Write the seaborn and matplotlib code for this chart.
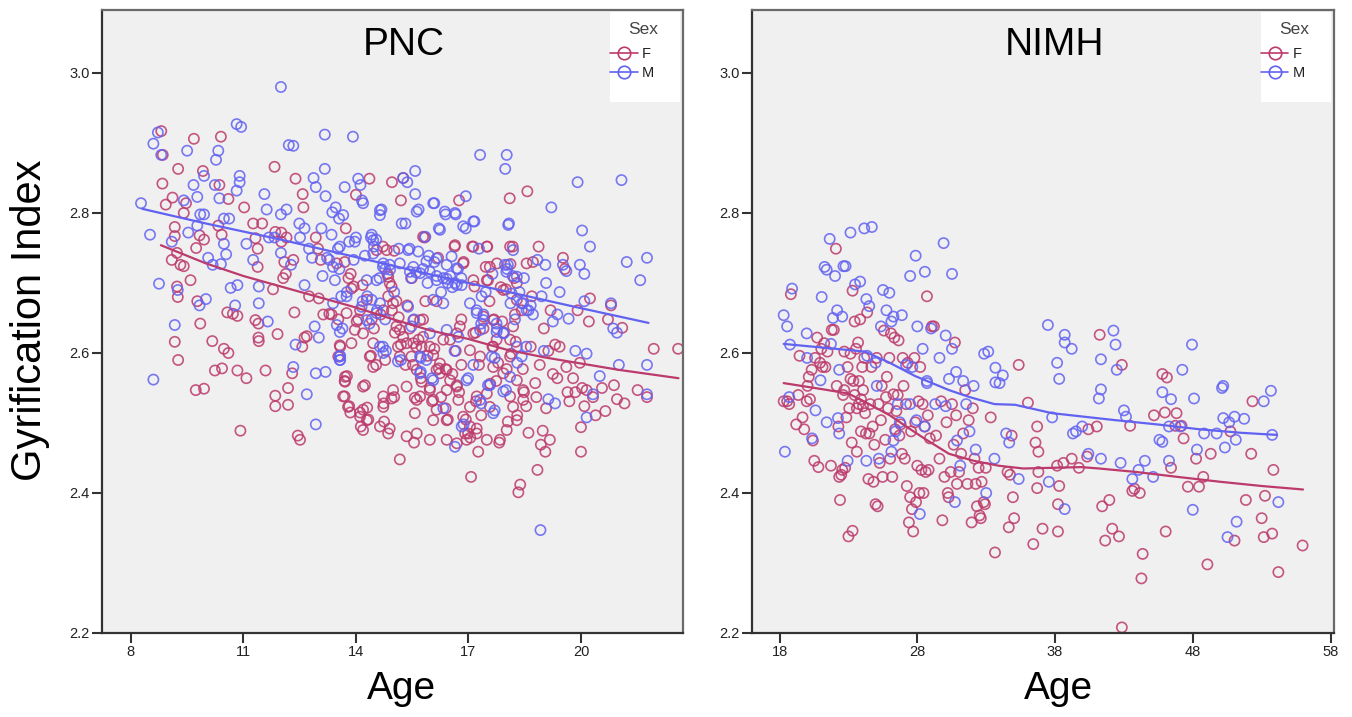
import matplotlib
matplotlib.use("Agg")
import matplotlib.pyplot as plt
import seaborn as sns
from matplotlib.lines import Line2D
from matplotlib.patches import Rectangle
from matplotlib.colors import to_rgba

# ---------------- DATA ----------------
sex_levels = ["F", "M"]
panel_titles = ["PNC", "NIMH"]
y_ticks = [2.2, 2.4, 2.6, 2.8, 3.0]
pnc_x_ticks = [8, 11, 14, 17, 20]
nimh_x_ticks = [18, 28, 38, 48, 58]

pnc_f_age = [8.81, 8.85, 8.84, 8.93, 9.11, 9.26, 9.17, 9.17, 9.09, 9.23, 9.32, 9.41, 9.23, 9.25, 9.17, 9.26, 9.41, 9.47,
             9.68, 9.59, 9.74, 9.83, 9.77, 9.85, 9.73, 9.95, 9.92, 9.95, 10.17, 10.24, 10.43, 10.48, 10.6, 10.4, 10.36,
             10.33, 10.42, 10.6, 10.57, 10.72, 10.84, 10.84, 10.92, 11.02, 11.08, 11.26, 11.32, 11.38, 11.38, 11.32,
             11.4, 11.4, 11.41, 11.5, 11.59, 11.79, 11.83, 11.85, 11.85, 11.85, 11.91, 12.01, 12.01, 12.06, 12.09,
             12.13, 12.15, 12.19, 12.19, 12.3, 12.33, 12.36, 12.39, 12.45, 12.51, 12.57, 12.58, 12.6, 12.63, 12.69,
             12.75, 12.93, 12.99, 13.01, 13.06, 13.13, 13.29, 13.35, 13.53, 13.58, 13.7, 13.73, 13.7, 13.76, 13.7,
             13.82, 13.85, 13.86, 13.94, 14.0, 14.06, 14.11, 14.13, 14.18, 14.24, 14.3, 14.33, 14.36, 14.4, 14.42,
             14.48, 14.54, 14.66, 14.72, 14.74, 14.75, 14.78, 14.84, 14.9, 14.9, 14.96, 14.96, 15.02, 15.02, 15.04,
             15.08, 15.14, 15.17, 15.2, 15.2, 15.26, 15.32, 15.37, 15.43, 15.49, 15.52, 15.55, 15.57, 15.61, 15.67,
             15.73, 15.79, 15.83, 15.85, 15.91, 15.97, 16.03, 16.09, 16.15, 16.19, 16.21, 16.27, 16.33, 16.39, 16.39,
             16.45, 16.51, 16.57, 16.63, 16.66, 16.69, 16.75, 16.75, 16.81, 16.81, 16.87, 16.93, 16.99, 17.05, 17.07,
             17.1, 17.16, 17.19, 17.2, 17.22, 17.26, 17.28, 17.34, 17.4, 17.46, 17.5, 17.52, 17.56, 17.58, 17.64,
             17.68, 17.74, 17.76, 17.79, 17.82, 17.86, 17.9, 17.94, 18.0, 18.02, 18.05, 18.1, 18.12, 18.14, 18.18,
             18.22, 18.24, 18.26, 18.3, 18.33, 18.38, 18.42, 18.45, 18.48, 18.54, 18.57, 18.6, 18.66, 18.69, 18.72,
             18.78, 18.81, 18.84, 18.87, 18.9, 18.93, 18.98, 19.01, 19.05, 19.07, 19.13, 19.17, 19.19, 19.25, 19.31,
             19.37, 19.43, 19.52, 19.57, 19.61, 19.64, 19.69, 19.79, 19.85, 19.91, 19.97, 20.0, 20.0, 20.03, 20.09,
             20.15, 20.21, 20.24, 20.32, 20.39, 20.56, 20.65, 20.72, 20.8, 20.88, 20.96, 21.1, 21.16, 21.51, 21.76,
             21.94, 22.59,
             13.49, 13.80, 13.88, 13.75, 14.02, 13.97, 13.57, 13.88, 13.53, 13.71,
             13.71, 14.19, 13.66, 13.79, 14.11, 14.29, 14.19, 14.37, 14.46, 14.73,
             14.95, 14.64, 14.86, 14.55, 14.82, 14.86, 14.95, 14.86, 14.73, 14.99,
             15.08, 15.17, 15.26, 15.35, 15.53, 15.71, 15.79, 15.53, 15.12, 15.17,
             15.48, 15.75, 15.97, 16.06, 16.24, 15.62, 16.15, 16.42, 16.51, 16.24,
             15.75, 15.35, 15.71, 15.97, 16.42, 16.69, 16.73, 15.62, 16.06, 16.15,
             15.57, 16.06, 16.42, 16.86, 17.04, 17.22, 17.49, 17.57, 17.04, 17.22,
             16.91, 16.95, 16.69, 17.49, 17.84, 18.02, 18.29, 18.19, 18.11, 18.46,
             18.46, 18.29, 17.93, 17.66, 17.31, 17.04, 17.66, 18.11, 17.75, 18.11,
             18.19, 17.66, 17.40, 17.13, 16.77, 16.69, 18.29, 17.93, 18.29, 17.49,
             17.13, 16.86, 17.57, 17.49, 17.13, 16.64, 18.11, 18.55, 15.79, 14.19,
             14.46, 14.29, 14.11, 14.19, 14.73, 14.99, 15.35, 15.62, 15.97, 16.42]
pnc_f_gi = [2.917, 2.883, 2.842, 2.812, 2.822, 2.863, 2.78, 2.767, 2.733, 2.743, 2.726, 2.724, 2.695, 2.68, 2.616, 2.59,
            2.80, 2.814, 2.906, 2.704, 2.75, 2.768, 2.674, 2.642, 2.547, 2.549, 2.86, 2.762, 2.617, 2.575, 2.578, 2.606,
            2.60, 2.909, 2.84, 2.782, 2.769, 2.82, 2.658, 2.656, 2.653, 2.575, 2.489, 2.808, 2.564, 2.785, 2.764, 2.749,
            2.723, 2.647, 2.642, 2.622, 2.617, 2.785, 2.575, 2.691, 2.866, 2.773, 2.539, 2.524, 2.627, 2.772, 2.759,
            2.707, 2.73, 2.713, 2.765, 2.55, 2.526, 2.571, 2.733, 2.658, 2.849, 2.482, 2.476, 2.609, 2.827, 2.808,
            2.622, 2.624, 2.681, 2.765, 2.749, 2.678, 2.733, 2.655, 2.656, 2.655, 2.648, 2.609, 2.73, 2.778, 2.56,
            2.567, 2.538, 2.524, 2.515, 2.713, 2.695, 2.826, 2.648, 2.515, 2.495, 2.697, 2.554, 2.522, 2.505, 2.849,
            2.596, 2.648, 2.635, 2.583, 2.655, 2.752, 2.528, 2.502, 2.59, 2.713, 2.492, 2.70, 2.661, 2.844, 2.537,
            2.746, 2.629, 2.674, 2.651, 2.448, 2.612, 2.818, 2.85, 2.583, 2.668, 2.635, 2.707, 2.583, 2.472, 2.536,
            2.609, 2.619, 2.564, 2.648, 2.765, 2.674, 2.596, 2.55, 2.531, 2.606, 2.674, 2.736, 2.578, 2.537, 2.619,
            2.577, 2.521, 2.505, 2.619, 2.57, 2.752, 2.603, 2.554, 2.818, 2.544, 2.648, 2.583, 2.73, 2.505, 2.485,
            2.479, 2.423, 2.752, 2.695, 2.629, 2.531, 2.492, 2.459, 2.583, 2.511, 2.635, 2.723, 2.752, 2.704, 2.674,
            2.556, 2.609, 2.648, 2.56, 2.728, 2.586, 2.472, 2.694, 2.645, 2.629, 2.691, 2.577, 2.502, 2.821, 2.727,
            2.599, 2.752, 2.707, 2.655, 2.616, 2.511, 2.401, 2.412, 2.661, 2.577, 2.544, 2.524, 2.831, 2.486, 2.609,
            2.681, 2.73, 2.557, 2.537, 2.433, 2.752, 2.583, 2.469, 2.489, 2.635, 2.459, 2.521, 2.603, 2.476, 2.661,
            2.57, 2.612, 2.564, 2.609, 2.736, 2.72, 2.58, 2.544, 2.531, 2.564, 2.544, 2.661, 2.586, 2.494, 2.459,
            2.55, 2.524, 2.547, 2.645, 2.678, 2.537, 2.511, 2.55, 2.517, 2.648, 2.668, 2.554, 2.534, 2.636, 2.528,
            2.547, 2.537, 2.606, 2.606,
            2.728, 2.707, 2.692, 2.657, 2.645, 2.633, 2.611, 2.614, 2.595, 2.566,
            2.559, 2.552, 2.538, 2.523, 2.509, 2.504, 2.49, 2.595, 2.58, 2.523,
            2.535, 2.495, 2.485, 2.747, 2.747, 2.709, 2.695, 2.681, 2.661, 2.671,
            2.638, 2.633, 2.623, 2.614, 2.647, 2.647, 2.623, 2.614, 2.609, 2.595,
            2.595, 2.609, 2.609, 2.597, 2.585, 2.576, 2.576, 2.576, 2.561, 2.571,
            2.559, 2.552, 2.538, 2.547, 2.547, 2.552, 2.533, 2.533, 2.533, 2.519,
            2.514, 2.504, 2.504, 2.509, 2.523, 2.538, 2.542, 2.523, 2.495, 2.485,
            2.485, 2.476, 2.471, 2.476, 2.476, 2.49, 2.504, 2.523, 2.538, 2.533,
            2.547, 2.561, 2.571, 2.58, 2.595, 2.604, 2.609, 2.595, 2.619, 2.619,
            2.638, 2.647, 2.652, 2.628, 2.638, 2.628, 2.676, 2.69, 2.70, 2.704,
            2.704, 2.728, 2.723, 2.752, 2.752, 2.754, 2.752, 2.728, 2.766, 2.628,
            2.614, 2.676, 2.661, 2.519, 2.538, 2.547, 2.481, 2.485, 2.476, 2.476]

pnc_m_age = [8.27, 8.51, 8.6, 8.75, 8.6, 8.72, 8.81, 9.09, 9.25, 9.17, 9.41, 9.5, 9.53, 9.67, 9.77, 9.77, 9.85, 9.83,
             9.95, 9.95, 10.0, 10.06, 10.18, 10.24, 10.27, 10.33, 10.36, 10.4, 10.48, 10.48, 10.54, 10.62, 10.66,
             10.78, 10.82, 10.94, 10.9, 10.9, 10.82, 10.84, 11.08, 11.26, 11.41, 11.41, 11.56, 11.62, 11.65, 11.68,
             11.83, 12.0, 12.0, 12.0, 12.15, 12.21, 12.33, 12.27, 12.39, 12.33, 12.49, 12.51, 12.63, 12.63, 12.69,
             12.75, 12.83, 12.87, 12.93, 12.9, 12.93, 12.93, 13.01, 13.08, 13.11, 13.17, 13.17, 13.19, 13.19, 13.23,
             13.29, 13.35, 13.37, 13.46, 13.52, 13.55, 13.56, 13.58, 13.58, 13.61, 13.64, 13.7, 13.76, 13.82, 13.92,
             13.94, 14.0, 14.06, 14.12, 14.16, 14.18, 14.24, 14.3, 14.36, 14.4, 14.48, 14.54, 14.56, 14.63, 14.68,
             14.72, 14.72, 14.78, 14.8, 14.78, 14.9, 15.02, 15.14, 15.2, 15.26, 15.32, 15.37, 15.43, 15.47, 15.55,
             15.58, 15.58, 15.61, 15.67, 15.73, 15.73, 15.79, 15.85, 15.91, 15.94, 16.03, 16.09, 16.09, 16.15, 16.21,
             16.27, 16.33, 16.39, 16.42, 16.45, 16.51, 16.57, 16.63, 16.66, 16.69, 16.72, 16.81, 16.87, 16.93, 16.93,
             16.99, 17.16, 17.22, 17.28, 17.31, 17.34, 17.34, 17.4, 17.46, 17.52, 17.64, 17.7, 17.7, 17.76, 17.94,
             17.98, 18.02, 18.03, 18.05, 18.0, 18.08, 18.12, 18.18, 18.24, 18.3, 18.36, 18.42, 18.48, 18.54, 18.6,
             18.66, 18.72, 18.84, 18.92, 18.95, 19.01, 19.05, 19.07, 19.13, 19.21, 19.25, 19.31, 19.37, 19.43, 19.52,
             19.61, 19.67, 19.85, 19.91, 19.97, 20.03, 20.09, 20.09, 20.15, 20.15, 20.24, 20.32, 20.5, 20.8, 20.86,
             20.96, 21.01, 21.08, 21.22, 21.58, 21.76, 21.76, 21.76,
             14.64, 14.64, 13.66, 14.19, 15.22, 15.62, 16.06, 16.37, 16.64, 17.13,
             16.86, 16.24, 18.06, 14.42, 14.46, 13.97, 13.57, 15.39, 15.66, 14.46,
             14.73, 15.17, 15.53, 15.88, 16.15, 16.55, 16.69, 15.97, 16.15, 16.42,
             16.64, 16.82, 15.71, 15.44, 14.91, 14.55, 14.29, 13.39, 13.44, 13.75,
             13.39, 14.15, 14.42, 14.64, 14.55, 14.29, 13.49, 13.57, 15.39, 16.06,
             16.33, 17.04, 17.35, 17.97, 18.01, 18.19, 18.29, 18.15, 18.46, 18.55,
             17.22, 17.4, 17.75, 17.31, 17.75, 17.93, 18.29, 18.42, 15.48, 15.97,
             16.42, 16.73, 14.64, 14.73, 15.71, 15.88, 17.62, 15.12, 15.71, 16.06,
             13.57, 13.57, 17.13, 16.95, 17.57, 17.93, 18.11, 17.31, 16.33, 17.66,
             16.64, 16.82]
pnc_m_gi = [2.814, 2.769, 2.899, 2.699, 2.562, 2.915, 2.883, 2.759, 2.69, 2.64, 2.818, 2.889, 2.772, 2.84, 2.823, 2.782,
            2.798, 2.668, 2.853, 2.798, 2.677, 2.736, 2.726, 2.84, 2.876, 2.889, 2.821, 2.727, 2.756, 2.792, 2.741,
            2.792, 2.693, 2.668, 2.927, 2.923, 2.853, 2.844, 2.832, 2.697, 2.756, 2.733, 2.695, 2.671, 2.827, 2.805,
            2.645, 2.765, 2.765, 2.98, 2.798, 2.743, 2.805, 2.897, 2.896, 2.726, 2.612, 2.58, 2.785, 2.765, 2.778,
            2.697, 2.541, 2.749, 2.736, 2.85, 2.837, 2.638, 2.571, 2.498, 2.622, 2.778, 2.71, 2.912, 2.863, 2.824,
            2.573, 2.736, 2.733, 2.769, 2.801, 2.808, 2.749, 2.792, 2.72, 2.596, 2.59, 2.681, 2.635, 2.837, 2.687,
            2.759, 2.909, 2.733, 2.765, 2.849, 2.84, 2.818, 2.674, 2.739, 2.681, 2.642, 2.765, 2.752, 2.762, 2.661,
            2.707, 2.805, 2.723, 2.609, 2.648, 2.603, 2.72, 2.726, 2.687, 2.749, 2.59, 2.85, 2.785, 2.844, 2.749,
            2.707, 2.648, 2.827, 2.86, 2.715, 2.805, 2.593, 2.573, 2.72, 2.766, 2.70, 2.739, 2.564, 2.814, 2.73, 2.71,
            2.778, 2.687, 2.707, 2.798, 2.726, 2.70, 2.71, 2.694, 2.603, 2.798, 2.697, 2.72, 2.707, 2.498, 2.778,
            2.824, 2.564, 2.788, 2.661, 2.749, 2.883, 2.642, 2.528, 2.655, 2.687, 2.554, 2.713, 2.593, 2.518, 2.635,
            2.629, 2.863, 2.883, 2.72, 2.726, 2.547, 2.785, 2.671, 2.71, 2.648, 2.586, 2.687, 2.671, 2.707, 2.609,
            2.661, 2.668, 2.655, 2.733, 2.347, 2.681, 2.603, 2.726, 2.70, 2.534, 2.808, 2.645, 2.528, 2.655, 2.687,
            2.726, 2.717, 2.649, 2.603, 2.844, 2.726, 2.775, 2.713, 2.674, 2.599, 2.508, 2.752, 2.541, 2.567, 2.671,
            2.635, 2.629, 2.583, 2.847, 2.73, 2.704, 2.736, 2.583, 2.541,
            2.804, 2.797, 2.797, 2.814, 2.785, 2.802, 2.814, 2.802, 2.80, 2.788,
            2.781, 2.776, 2.783, 2.769, 2.761, 2.759, 2.752, 2.747, 2.745, 2.742,
            2.728, 2.728, 2.723, 2.731, 2.735, 2.738, 2.721, 2.716, 2.704, 2.706,
            2.70, 2.697, 2.714, 2.716, 2.719, 2.704, 2.704, 2.723, 2.704, 2.681,
            2.671, 2.666, 2.676, 2.671, 2.657, 2.647, 2.64, 2.63, 2.666, 2.676,
            2.671, 2.671, 2.681, 2.726, 2.716, 2.747, 2.709, 2.685, 2.671, 2.661,
            2.657, 2.647, 2.642, 2.633, 2.63, 2.628, 2.609, 2.595, 2.638, 2.628,
            2.633, 2.623, 2.609, 2.60, 2.595, 2.59, 2.595, 2.588, 2.571, 2.561,
            2.595, 2.59, 2.583, 2.561, 2.554, 2.545, 2.566, 2.533, 2.521, 2.514,
            2.466, 2.495]

pnc_f_fit_age = [8.8, 10, 11, 12, 13, 14, 15, 16, 17, 18, 19, 20, 21, 22.6]
pnc_f_fit_gi = [2.754, 2.728, 2.71, 2.695, 2.68, 2.665, 2.648, 2.632, 2.62, 2.605, 2.594, 2.585, 2.576, 2.564]
pnc_m_fit_age = [8.3, 10, 12, 14, 16, 18, 20, 21.8]
pnc_m_fit_gi = [2.806, 2.785, 2.762, 2.737, 2.712, 2.688, 2.664, 2.643]

nimh_f_age = [18.3, 18.55, 18.7, 18.82, 19.21, 19.36, 19.45, 19.67, 19.79, 19.97, 20.03, 20.12, 20.21, 20.33, 20.42,
              20.52, 20.58, 20.73, 20.82, 20.94, 21.03, 21.12, 21.24, 21.33, 21.48, 21.73, 21.79, 21.94, 22.09, 22.15,
              22.27, 22.33, 22.39, 22.48, 22.55, 22.61, 22.7, 22.7, 22.76, 22.85, 22.94, 23.0, 23.06, 23.15, 23.15,
              23.24, 23.3, 23.3, 23.36, 23.45, 23.45, 23.55, 23.61, 23.61, 23.7, 23.76, 23.76, 23.85, 23.91, 23.91,
              24.0, 24.06, 24.06, 24.15, 24.21, 24.27, 24.36, 24.45, 24.52, 24.58, 24.67, 24.76, 24.82, 24.88, 24.97,
              25.06, 25.12, 25.18, 25.27, 25.36, 25.42, 25.48, 25.58, 25.67, 25.73, 25.79, 25.88, 25.97, 26.03, 26.09,
              26.18, 26.27, 26.33, 26.39, 26.48, 26.58, 26.64, 26.7, 26.79, 26.88, 26.94, 27.0, 27.09, 27.18, 27.24,
              27.3, 27.39, 27.48, 27.55, 27.61, 27.7, 27.79, 27.85, 27.91, 28.0, 28.09, 28.15, 28.21, 28.3, 28.39,
              28.45, 28.52, 28.61, 28.7, 28.76, 28.82, 28.91, 29.06, 29.21, 29.36, 29.61, 29.73, 29.82, 29.97, 30.12,
              30.21, 30.27, 30.42, 30.52, 30.64, 30.73, 30.82, 30.88, 31.03, 31.18, 31.33, 31.48, 31.64, 31.73, 31.94,
              32.03, 32.15, 32.24, 32.33, 32.45, 32.52, 32.61, 32.67, 32.82, 32.91, 32.97, 33.33, 33.64, 34.55, 34.73,
              34.64, 34.85, 34.94, 35.03, 35.36, 36.03, 36.42, 36.58, 36.7, 36.79, 36.7, 36.79, 37.09, 38.15, 38.21,
              38.21, 38.3, 38.61, 39.21, 39.73, 40.33, 40.42, 41.03, 41.24, 41.42, 41.64, 41.94, 42.15, 42.64, 42.85,
              42.85, 43.45, 43.61, 43.76, 44.15, 44.27, 44.36, 45.18, 45.79, 45.97, 46.03, 46.12, 46.42, 46.73, 46.82,
              47.18, 47.33, 47.64, 48.24, 48.45, 48.76, 49.06, 49.3, 50.73, 51.03, 51.85, 52.24, 52.33, 53.0, 53.15,
              53.24, 53.76, 53.85, 54.21, 55.97]
nimh_f_gi = [2.531, 2.531, 2.527, 2.684, 2.498, 2.54, 2.596, 2.508, 2.491, 2.531, 2.553, 2.566, 2.534, 2.576, 2.475,
             2.446, 2.593, 2.622, 2.437, 2.586, 2.606, 2.58, 2.614, 2.58, 2.602, 2.439, 2.633, 2.633, 2.749, 2.553,
             2.495, 2.423, 2.39, 2.426, 2.433, 2.54, 2.602, 2.547, 2.436, 2.508, 2.58, 2.338, 2.521, 2.599, 2.563,
             2.472, 2.346, 2.689, 2.56, 2.645, 2.54, 2.606, 2.521, 2.459, 2.615, 2.527, 2.56, 2.648, 2.534, 2.488,
             2.58, 2.524, 2.547, 2.593, 2.514, 2.485, 2.658, 2.42, 2.485, 2.527, 2.58, 2.495, 2.416, 2.469, 2.384,
             2.593, 2.381, 2.527, 2.443, 2.504, 2.553, 2.423, 2.632, 2.476, 2.537, 2.566, 2.521, 2.593, 2.449, 2.628,
             2.423, 2.541, 2.622, 2.491, 2.517, 2.54, 2.618, 2.482, 2.498, 2.456, 2.593, 2.553, 2.449, 2.527, 2.41,
             2.586, 2.358, 2.394, 2.488, 2.377, 2.345, 2.593, 2.501, 2.387, 2.439, 2.531, 2.40, 2.58, 2.433, 2.527,
             2.40, 2.495, 2.43, 2.681, 2.511, 2.433, 2.478, 2.638, 2.638, 2.482, 2.449, 2.531, 2.361, 2.423, 2.501,
             2.40, 2.394, 2.43, 2.527, 2.469, 2.615, 2.511, 2.413, 2.43, 2.456, 2.485, 2.547, 2.413, 2.504, 2.358,
             2.521, 2.449, 2.413, 2.381, 2.436, 2.368, 2.364, 2.416, 2.387, 2.384, 2.436, 2.508, 2.315, 2.43, 2.426,
             2.351, 2.482, 2.394, 2.364, 2.583, 2.529, 2.327, 2.472, 2.495, 2.459, 2.407, 2.43, 2.349, 2.439, 2.384,
             2.345, 2.41, 2.443, 2.449, 2.436, 2.452, 2.491, 2.495, 2.626, 2.381, 2.332, 2.39, 2.349, 2.338, 2.583,
             2.208, 2.496, 2.403, 2.406, 2.40, 2.278, 2.313, 2.511, 2.57, 2.515, 2.345, 2.565, 2.436, 2.496, 2.514,
             2.496, 2.478, 2.409, 2.449, 2.409, 2.423, 2.298, 2.456, 2.488, 2.332, 2.39, 2.456, 2.531, 2.364, 2.337,
             2.396, 2.342, 2.433, 2.287, 2.325]

nimh_m_age = [18.3, 18.55, 18.76, 18.91, 18.39, 18.7, 19.97, 20.0, 20.36, 20.61, 20.97, 21.06, 21.27, 21.42, 21.42,
              21.64, 21.73, 21.88, 22.03, 22.18, 22.24, 22.33, 22.55, 22.64, 22.33, 22.79, 23.15, 22.94, 23.48, 23.85,
              24.15, 24.3, 24.51, 24.7, 24.36, 24.3, 24.97, 25.06, 25.21, 25.36, 25.51, 25.76, 25.97, 26.12, 26.12,
              26.27, 26.27, 26.42, 26.58, 26.73, 26.88, 27.18, 27.48, 27.48, 27.64, 27.88, 27.94, 28.0, 28.18, 28.39,
              28.55, 28.55, 28.7, 28.7, 29.0, 29.3, 29.61, 29.91, 30.06, 30.06, 30.3, 30.52, 30.52, 30.73, 30.82,
              30.88, 31.12, 31.33, 31.55, 31.79, 32.09, 32.24, 32.85, 33.0, 33.15, 33.67, 33.67, 33.97, 34.21, 33.6,
              34.45, 34.67, 35.36, 37.48, 37.79, 37.55, 38.15, 38.3, 38.7, 38.7, 38.7, 39.21, 39.3, 39.52, 39.97,
              40.42, 41.18, 41.33, 41.33, 41.33, 42.24, 42.39, 42.48, 42.76, 43.0, 43.15, 43.61, 44.06, 44.52, 45.12,
              45.58, 45.79, 45.79, 46.27, 46.27, 46.42, 47.09, 47.24, 47.94, 48.09, 48.0, 48.3, 48.82, 49.73, 50.12,
              50.21, 50.21, 50.33, 50.52, 50.64, 51.03, 51.12, 51.18, 51.73, 53.15, 53.67, 53.76, 54.21]
nimh_m_gi = [2.654, 2.638, 2.612, 2.692, 2.459, 2.537, 2.628, 2.593, 2.478, 2.518, 2.561, 2.68, 2.723, 2.719, 2.501,
             2.763, 2.613, 2.65, 2.71, 2.661, 2.507, 2.576, 2.652, 2.724, 2.485, 2.724, 2.772, 2.446, 2.698, 2.702,
             2.778, 2.677, 2.667, 2.78, 2.596, 2.446, 2.586, 2.553, 2.449, 2.638, 2.69, 2.661, 2.686, 2.645, 2.459,
             2.475, 2.652, 2.488, 2.527, 2.501, 2.654, 2.583, 2.71, 2.527, 2.58, 2.739, 2.504, 2.638, 2.37, 2.606,
             2.716, 2.495, 2.56, 2.557, 2.635, 2.527, 2.593, 2.757, 2.625, 2.524, 2.563, 2.713, 2.606, 2.387, 2.573,
             2.475, 2.439, 2.56, 2.527, 2.488, 2.553, 2.462, 2.599, 2.40, 2.602, 2.579, 2.558, 2.557, 2.568, 2.449,
             2.485, 2.472, 2.42, 2.64, 2.508, 2.416, 2.586, 2.563, 2.626, 2.615, 2.377, 2.606, 2.485, 2.488, 2.495,
             2.456, 2.535, 2.548, 2.591, 2.449, 2.632, 2.612, 2.576, 2.443, 2.518, 2.509, 2.42, 2.433, 2.446, 2.423,
             2.476, 2.544, 2.473, 2.446, 2.495, 2.534, 2.495, 2.576, 2.612, 2.535, 2.376, 2.462, 2.485, 2.485, 2.55,
             2.553, 2.507, 2.465, 2.337, 2.501, 2.509, 2.476, 2.359, 2.506, 2.531, 2.546, 2.483, 2.387]

nimh_f_fit_age = [18.3, 21.2, 23.0, 24.5, 26.0, 27.2, 28.5, 30.3, 32.1, 33.9, 35.7, 37.8, 39.9, 41.2, 43.9, 46.9,
                  50.0, 53.0, 56.0]
nimh_f_fit_gi = [2.557, 2.548, 2.542, 2.527, 2.511, 2.495, 2.478, 2.456, 2.446, 2.439, 2.435, 2.436, 2.437, 2.435,
                 2.43, 2.423, 2.416, 2.41, 2.405]
nimh_m_fit_age = [18.3, 24.2, 26.0, 27.85, 30.3, 31.8, 33.6, 35.1, 37.8, 42.4, 45.4, 48.5, 51.5, 54.1]
nimh_m_fit_gi = [2.613, 2.602, 2.586, 2.567, 2.547, 2.537, 2.527, 2.526, 2.514, 2.504, 2.498, 2.491, 2.486, 2.483]

# ---------------- STYLE ----------------
sns.set_theme(style="white")
plt.rcParams['font.family'] = ['Liberation Sans', 'DejaVu Sans']

F_COL = "#BC3A6C"
M_COL = "#6262F2"
sex_colors = {"F": F_COL, "M": M_COL}

fig = plt.figure(figsize=(13.52, 7.17), dpi=100)
W, H = 1352, 717
ax1 = fig.add_axes([102 / W, 84 / H, 581 / W, 623 / H])
ax2 = fig.add_axes([752 / W, 84 / H, 582 / W, 623 / H])


def scatter_open(ax, x, y, col):
    sns.scatterplot(x=x, y=y, ax=ax, marker='o', s=54, color=col, linewidth=1.2, legend=False)
    coll = ax.collections[-1]
    coll.set_facecolor('none')
    coll.set_edgecolor(to_rgba(col, 0.85))
    coll.set_linewidth(1.2)


def panel(ax, title, f_age, f_gi, m_age, m_gi, ff_a, ff_g, mf_a, mf_g, xlim, xticks):
    ax.set_facecolor("#F0F0F0")
    scatter_open(ax, f_age, f_gi, F_COL)
    scatter_open(ax, m_age, m_gi, M_COL)
    sns.lineplot(x=ff_a, y=ff_g, ax=ax, color=F_COL, lw=1.6, legend=False)
    sns.lineplot(x=mf_a, y=mf_g, ax=ax, color=M_COL, lw=1.6, legend=False)
    ax.set_xlim(*xlim)
    ax.set_ylim(2.2, 3.09)
    ax.set_xticks(xticks)
    ax.set_yticks(y_ticks)
    ax.set_yticklabels([f"{v:.1f}" for v in y_ticks])
    ax.set_xlabel("")
    ax.set_ylabel("")
    ax.tick_params(axis='both', which='major', direction='out', length=7, width=1.5,
                   color='#333333', labelsize=10.5, labelcolor='#222222', pad=2,
                   left=True, bottom=True, top=False, right=False)
    for side in ['left', 'bottom']:
        ax.spines[side].set_color('#333333')
        ax.spines[side].set_linewidth(1.6)
    for side in ['top', 'right']:
        ax.spines[side].set_color('#6a6a6a')
        ax.spines[side].set_linewidth(1.6)
    ax.text(0.52, 0.944, title, transform=ax.transAxes, ha='center', va='center',
            fontsize=28, color='black')
    # legend box (white, borderless) in the upper right corner
    ax.add_patch(Rectangle((0.874, 0.852), 0.121, 0.145, transform=ax.transAxes,
                           facecolor='white', edgecolor='none', zorder=4))
    ax.text(0.905, 0.968, "Sex", transform=ax.transAxes, ha='left', va='center',
            fontsize=12.5, color='#444444', zorder=5)
    handles = [Line2D([0], [0], color=sex_colors[s], lw=1.2, marker='o', markersize=9,
                      markerfacecolor='none', markeredgecolor=sex_colors[s], markeredgewidth=1.2)
               for s in sex_levels]
    leg = ax.legend(handles, sex_levels, loc='upper left', bbox_to_anchor=(0.874, 0.94),
                    frameon=False, fontsize=10.5, handlelength=1.9, handletextpad=0.3,
                    labelspacing=0.3, borderpad=0.0, borderaxespad=0.0)
    for t in leg.get_texts():
        t.set_color('#222222')
    leg.set_zorder(6)


panel(ax1, panel_titles[0], pnc_f_age, pnc_f_gi, pnc_m_age, pnc_m_gi,
      pnc_f_fit_age, pnc_f_fit_gi, pnc_m_fit_age, pnc_m_fit_gi, (7.23, 22.72), pnc_x_ticks)
panel(ax2, panel_titles[1], nimh_f_age, nimh_f_gi, nimh_m_age, nimh_m_gi,
      nimh_f_fit_age, nimh_f_fit_gi, nimh_m_fit_age, nimh_m_fit_gi, (16.0, 58.25), nimh_x_ticks)

fig.text(30 / W, 1 - 320 / H, "Gyrification Index", rotation=90, ha='center', va='center',
         fontsize=30, color='black')
fig.text(401 / W, 1 - 689 / H, "Age", ha='center', va='center', fontsize=28, color='black')
fig.text(1058 / W, 1 - 689 / H, "Age", ha='center', va='center', fontsize=28, color='black')

fig.savefig("out.png", dpi=100, facecolor='white')
